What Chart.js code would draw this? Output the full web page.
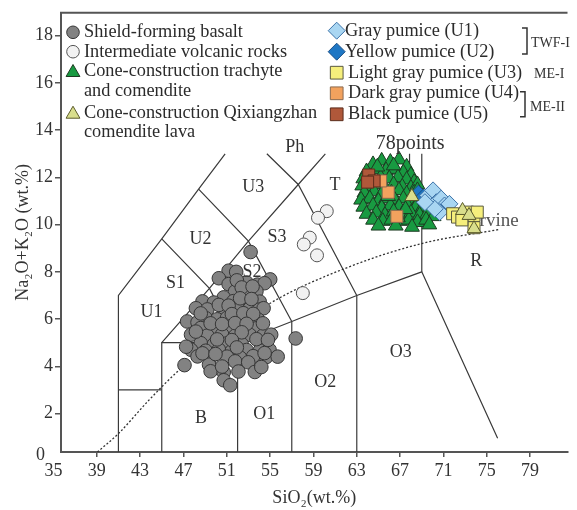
<!DOCTYPE html>
<html>
<head>
<meta charset="utf-8">
<script src="https://cdn.jsdelivr.net/npm/chart.js@4/dist/chart.umd.min.js"></script>
<style>
  html, body { margin: 0; padding: 0; background: #fff; }
  #wrap { width: 577px; height: 510px; }
</style>
</head>
<body>
<div id="wrap"><canvas id="tas" width="577" height="510"></canvas></div>
<script>
// ---- axis ticks ----
const xTickValues = [39, 43, 47, 51, 55, 59, 63, 67, 71, 75, 79];
const yTickValues = [2, 4, 6, 8, 10, 12, 14, 16, 18];

// ---- TAS field boundaries (SiO2, Na2O+K2O) ----
const fieldBoundaries = [
  [[41, 0], [41, 7], [45, 9.4], [48.4, 11.5], [50.85, 13]],
  [[41, 3], [45, 3]],
  [[45, 0], [45, 5], [52, 5], [57, 5.9], [63, 7], [69, 8], [76, 0.95]],
  [[52, 0], [52, 5]],
  [[57, 0], [57, 5.9]],
  [[63, 0], [63, 7]],
  [[69, 8], [69, 13]],
  [[45, 5], [49.4, 7.3], [53, 9.3], [57.6, 11.7], [60.1, 13]],
  [[45, 9.4], [49.4, 7.3], [52, 5]],
  [[48.4, 11.5], [53, 9.3], [57, 5.9]],
  [[54.7, 13], [57.6, 11.7], [63, 7]],
  [[67.87, 13], [67.87, 11.95]]
];

// alkaline / subalkaline divide (Irvine)
const irvineLine = [[39.06, 0.37], [41, 1.15], [43.78, 2.55], [46.95, 3.98], [54.97, 6.66], [61.89, 8.14], [69, 9.2], [76.08, 9.79]];

// field names placed at (SiO2, Na2O+K2O)
const fieldLabels = [
  ['Ph', 57.27, 13.26], ['U3', 53.44, 11.58], ['T', 60.98, 11.66], ['U2', 48.57, 9.37],
  ['S3', 55.64, 9.46], ['S2', 53.33, 7.99], ['S1', 46.26, 7.51], ['U1', 44.05, 6.30],
  ['R', 74.03, 8.44], ['O3', 67.05, 4.60], ['O2', 60.08, 3.34], ['B', 48.62, 1.78], ['O1', 54.46, 1.99]
];

// ---- samples (SiO2 wt.%, Na2O+K2O wt.%) ----
const shieldBasalt = [
  [53.20, 8.84], [51.17, 8.05], [51.87, 8.00], [50.27, 7.73], [55.01, 7.68],
  [51.17, 7.48], [52.83, 7.55], [53.83, 7.46], [54.49, 7.52], [51.77, 7.17],
  [52.74, 7.12], [53.74, 7.18], [50.72, 6.92], [48.76, 6.75], [49.81, 6.70],
  [51.62, 6.76], [52.83, 6.71], [54.04, 6.74], [48.15, 6.46], [49.21, 6.41],
  [50.72, 6.47], [52.08, 6.42], [53.13, 6.45], [53.98, 6.40], [54.40, 6.46],
  [49.06, 6.04], [50.11, 5.99], [51.02, 6.05], [51.93, 6.00], [52.98, 6.03],
  [53.89, 5.98], [47.34, 5.90], [48.30, 5.86], [48.60, 5.62], [49.81, 5.58],
  [51.32, 5.63], [52.53, 5.57], [53.74, 5.61], [47.70, 5.34], [49.21, 5.30],
  [50.57, 5.35], [51.77, 5.29], [53.13, 5.33], [54.34, 5.30], [55.10, 5.34],
  [57.36, 5.18], [48.60, 4.98], [49.81, 4.93], [51.02, 4.97], [52.38, 4.94],
  [47.70, 4.70], [49.06, 4.66], [50.27, 4.71], [51.47, 4.65], [52.83, 4.69],
  [54.04, 4.66], [54.95, 4.70], [48.30, 4.42], [49.51, 4.38], [51.02, 4.41],
  [52.23, 4.37], [53.44, 4.43], [54.64, 4.39], [55.70, 4.41], [51.77, 4.21],
  [52.98, 4.17], [47.10, 4.05], [49.36, 4.07], [49.51, 3.79], [50.72, 3.75],
  [52.08, 3.78], [53.59, 3.76], [50.72, 3.41], [51.32, 3.20], [51.93, 7.64],
  [52.38, 7.34], [53.38, 7.38], [52.23, 6.88], [53.28, 6.85], [50.27, 6.60],
  [51.17, 6.57], [48.60, 6.24], [51.47, 6.21], [52.53, 6.25], [53.44, 6.22],
  [49.51, 5.82], [50.57, 5.79], [51.77, 5.83], [52.83, 5.80], [54.34, 5.82],
  [48.15, 5.47], [52.38, 5.44], [50.11, 5.14], [51.47, 5.11], [53.74, 5.15],
  [54.80, 5.12], [47.25, 4.83], [51.93, 4.80], [48.76, 4.55], [49.96, 4.52],
  [54.49, 4.56], [50.57, 3.99], [54.19, 3.97]
];
const intermediateRocks = [[60.23, 10.57], [59.42, 10.29], [58.66, 9.45], [58.11, 9.16], [59.33, 8.70], [58.02, 7.10]];
const trachyteComendite = [
  [64.5, 12.55], [65.3, 12.70], [66.1, 12.65], [66.9, 12.75], [67.6, 12.45],
  [63.9, 12.25], [64.8, 12.35], [65.7, 12.30], [66.5, 12.35], [67.3, 12.20], [68.0, 12.10],
  [63.6, 11.95], [64.4, 12.00], [65.2, 12.00], [66.0, 11.95], [66.8, 12.00], [67.6, 11.90], [68.3, 11.80],
  [63.5, 11.65], [64.3, 11.60], [65.0, 11.70], [65.6, 11.55], [66.4, 11.70], [67.2, 11.60], [68.0, 11.55], [68.6, 11.70],
  [63.7, 11.35], [64.6, 11.40], [65.3, 11.30], [66.2, 11.35], [66.9, 11.45], [67.6, 11.30], [68.3, 11.35], [69.0, 11.20],
  [63.4, 11.05], [64.2, 11.10], [65.0, 11.00], [65.7, 11.10], [66.5, 11.05], [67.3, 11.10], [68.0, 10.95], [68.7, 11.00], [69.4, 11.00],
  [63.6, 10.75], [64.5, 10.80], [65.3, 10.70], [66.1, 10.80], [66.9, 10.75], [67.7, 10.80], [68.4, 10.70], [69.1, 10.75], [69.8, 10.65],
  [63.9, 10.45], [64.8, 10.50], [65.6, 10.40], [66.4, 10.55], [67.2, 10.45], [68.0, 10.50], [68.8, 10.40], [69.5, 10.45], [70.1, 10.35],
  [64.5, 10.20], [65.4, 10.15], [66.2, 10.20], [67.0, 10.15], [67.8, 10.20], [68.6, 10.10], [69.4, 10.20],
  [65.0, 9.95], [66.6, 9.95], [68.1, 9.90], [69.7, 10.00],
  [64.9, 12.45], [66.4, 12.50], [65.9, 11.20], [67.5, 10.65], [66.8, 10.30], [68.6, 11.45]
];
const qixiangzhanLava = [[72.76, 10.60], [73.36, 10.39], [73.82, 9.83], [68.08, 11.19]];
const grayPumiceU1 = [[69.59, 11.23], [70.04, 11.45], [70.34, 10.95], [70.79, 11.10], [71.10, 10.81], [71.55, 10.88], [70.65, 10.53], [70.20, 10.67], [69.29, 10.95]];
const yellowPumiceU2 = [[68.69, 11.31], [69.15, 11.15]];
const lightGrayPumiceU3 = [[71.85, 10.46], [72.30, 10.32], [73.21, 10.53], [73.82, 10.39], [74.12, 10.53], [73.82, 9.87], [72.70, 10.20]];
const darkGrayPumiceU4 = [[65.90, 11.37], [66.70, 10.35], [65.20, 11.85]];
const blackPumiceU5 = [[64.10, 12.10], [64.60, 11.85], [64.00, 11.80]];

const FONT = "'Liberation Serif', 'Times New Roman', serif";
const toPts = arr => arr.map(([x, y]) => ({ x, y }));

const markerSet = (label, pts, order, style) => Object.assign({
  type: 'scatter', label, data: toPts(pts), order, borderWidth: 1, pointHoverRadius: 0
}, style);

const sampleSets = [
  markerSet('Shield-forming basalt', shieldBasalt, 20,
    { pointStyle: 'circle', pointRadius: 6.8, backgroundColor: '#828282', borderColor: '#363636' }),
  markerSet('Intermediate volcanic rocks', intermediateRocks, 19,
    { pointStyle: 'circle', pointRadius: 6.5, backgroundColor: '#f2f2f2', borderColor: '#555' }),
  markerSet('Cone-construction trachyte and comendite', trachyteComendite, 18,
    { pointStyle: 'triangle', pointRadius: 8.5, backgroundColor: '#189a41', borderColor: '#1d3b22' }),
  markerSet('Dark gray pumice (U4)', darkGrayPumiceU4, 17,
    { pointStyle: 'rect', pointRadius: 8.5, backgroundColor: '#f2a25e', borderColor: '#8a6a50' }),
  markerSet('Black pumice (U5)', blackPumiceU5, 16,
    { pointStyle: 'rect', pointRadius: 8.5, backgroundColor: '#b0583a', borderColor: '#5b2c1c' }),
  markerSet('Yellow pumice (U2)', yellowPumiceU2, 15,
    { pointStyle: 'rectRot', pointRadius: 8.5, backgroundColor: '#1f77c4', borderColor: '#1a4e85' }),
  markerSet('Gray pumice (U1)', grayPumiceU1, 14,
    { pointStyle: 'rectRot', pointRadius: 8.5, backgroundColor: '#a9d6f2', borderColor: '#3c72a8' }),
  markerSet('Light gray pumice (U3)', lightGrayPumiceU3, 13,
    { pointStyle: 'rect', pointRadius: 8.5, backgroundColor: '#f6ef7c', borderColor: '#5a5a40' }),
  markerSet('Cone-construction Qixiangzhan comendite lava', qixiangzhanLava, 12,
    { pointStyle: 'triangle', pointRadius: 8, backgroundColor: '#d9de8c', borderColor: '#5a5a2a' })
];

const boundarySets = fieldBoundaries.map(line => ({
  type: 'line', data: toPts(line), order: 100, borderColor: '#3a3a3a', borderWidth: 1.2,
  pointRadius: 0, fill: false, tension: 0
}));
const irvineSet = {
  type: 'line', data: toPts(irvineLine), order: 99, borderColor: '#333', borderWidth: 1.3,
  borderDash: [2, 2], pointRadius: 0, fill: false, cubicInterpolationMode: 'monotone'
};

const byLabel = l => sampleSets.find(d => d.label === l);

function drawMarker(ctx, ds, x, y, radius) {
  ctx.save();
  ctx.fillStyle = ds.backgroundColor;
  ctx.strokeStyle = ds.borderColor;
  ctx.lineWidth = ds.borderWidth;
  Chart.helpers.drawPoint(ctx, { pointStyle: ds.pointStyle, radius: radius, rotation: 0, borderWidth: ds.borderWidth }, x, y);
  ctx.restore();
}

// text drawn under the samples
const underlayText = {
  id: 'underlayText',
  beforeDatasetsDraw(chart) {
    const { ctx, scales: { x, y } } = chart;
    ctx.save();
    ctx.font = `19px ${FONT}`;
    ctx.fillStyle = '#555';
    ctx.textBaseline = 'middle';
    ctx.textAlign = 'left';
    ctx.fillText('Irvine', x.getPixelForValue(73.75), y.getPixelForValue(10.15));
    ctx.restore();
  }
};

// frame, field names, legend
const overlay = {
  id: 'overlay',
  afterDraw(chart) {
    const { ctx, chartArea: a, scales: { x, y } } = chart;
    ctx.save();
    // top frame line
    ctx.strokeStyle = '#555';
    ctx.lineWidth = 2;
    ctx.beginPath();
    ctx.moveTo(a.left - 1, a.top);
    ctx.lineTo(a.right, a.top);
    ctx.stroke();

    // origin tick labels
    ctx.fillStyle = '#333';
    ctx.font = `18px ${FONT}`;
    ctx.textBaseline = 'middle';
    ctx.textAlign = 'center';
    ctx.fillText('35', x.getPixelForValue(35), 471);
    ctx.textAlign = 'right';
    ctx.fillText('0', 45, 455.5);

    // field names
    ctx.textAlign = 'center';
    ctx.fillStyle = '#333';
    fieldLabels.forEach(([t, vx, vy]) => ctx.fillText(t, x.getPixelForValue(vx), y.getPixelForValue(vy)));
    ctx.font = `20px ${FONT}`;
    ctx.fillText('78points', x.getPixelForValue(67.92), y.getPixelForValue(13.42));

    // legend, left column
    ctx.font = `18.3px ${FONT}`;
    ctx.textAlign = 'left';
    const left = [
      ['Shield-forming basalt', 32.3, ['Shield-forming basalt']],
      ['Intermediate volcanic rocks', 51.7, ['Intermediate volcanic rocks']],
      ['Cone-construction trachyte and comendite', 71, ['Cone-construction trachyte', 'and comendite']],
      ['Cone-construction Qixiangzhan comendite lava', 112.7, ['Cone-construction Qixiangzhan', 'comendite lava']]
    ];
    left.forEach(([lab, yy, lines]) => {
      const ds = byLabel(lab);
      const tri = ds.pointStyle === 'triangle';
      drawMarker(ctx, ds, 73, yy + (tri ? 1.5 : 0), tri ? 8 : 6.3);
      ctx.fillStyle = '#2b2b2b';
      lines.forEach((t, i) => ctx.fillText(t, 84, yy + i * 19.7));
    });

    // legend, right column
    const right = [
      ['Gray pumice (U1)', 30.7, 345],
      ['Yellow pumice (U2)', 51.7, 345],
      ['Light gray pumice (U3)', 72.7, 348],
      ['Dark gray pumice (U4)', 93.3, 348],
      ['Black pumice (U5)', 114.3, 348]
    ];
    right.forEach(([lab, yy, tx]) => {
      const ds = byLabel(lab);
      drawMarker(ctx, ds, 336.7, yy, ds.pointStyle === 'rectRot' ? 8.5 : 9);
      ctx.fillStyle = '#2b2b2b';
      ctx.fillText(lab, tx, yy);
    });

    // group brackets
    ctx.strokeStyle = '#333';
    ctx.lineWidth = 1.5;
    const bracket = (bx, y0, y1) => {
      ctx.beginPath();
      ctx.moveTo(bx - 5, y0); ctx.lineTo(bx, y0); ctx.lineTo(bx, y1); ctx.lineTo(bx - 5, y1);
      ctx.stroke();
    };
    bracket(527, 28, 54);
    bracket(525, 91.7, 116.7);
    ctx.font = `14px ${FONT}`;
    ctx.fillStyle = '#333';
    ctx.fillText('TWF-I', 531, 43.3);
    ctx.fillText('ME-I', 534, 74);
    ctx.fillText('ME-II', 530, 107);
    ctx.restore();
  }
};

new Chart(document.getElementById('tas'), {
  type: 'scatter',
  data: { datasets: [...sampleSets, irvineSet, ...boundarySets] },
  options: {
    responsive: false,
    animation: false,
    devicePixelRatio: 1,
    layout: { padding: { top: 12, right: 0, bottom: 0, left: 0 } },
    plugins: { legend: { display: false }, tooltip: { enabled: false } },
    events: [],
    scales: {
      x: {
        type: 'linear', min: 35.7, max: 82.45,
        afterBuildTicks: s => { s.ticks = xTickValues.map(v => ({ value: v })); },
        afterFit: s => { s.height = 58; },
        ticks: { font: { family: FONT, size: 18 }, color: '#333', padding: 3, autoSkip: false, maxRotation: 0 },
        grid: { drawOnChartArea: false, drawTicks: true, tickLength: 5, color: '#555', lineWidth: 1.5 },
        border: { color: '#555', width: 2 },
        title: { display: true, text: 'SiO₂(wt.%)', font: { family: FONT, size: 18 }, color: '#333', padding: { top: 0, bottom: 1 } }
      },
      y: {
        type: 'linear', min: 0.372, max: 18.97,
        afterBuildTicks: s => { s.ticks = yTickValues.map(v => ({ value: v })); },
        afterFit: s => { s.width = 61; },
        ticks: { font: { family: FONT, size: 18 }, color: '#333', padding: 2, autoSkip: false },
        grid: { drawOnChartArea: false, drawTicks: true, tickLength: 6, color: '#555', lineWidth: 1.5 },
        border: { color: '#555', width: 2 },
        title: { display: true, text: 'Na₂O+K₂O (wt.%)', font: { family: FONT, size: 18 }, color: '#333', padding: { top: 12, bottom: 0 } }
      }
    }
  },
  plugins: [underlayText, overlay]
});
</script>
</body>
</html>
